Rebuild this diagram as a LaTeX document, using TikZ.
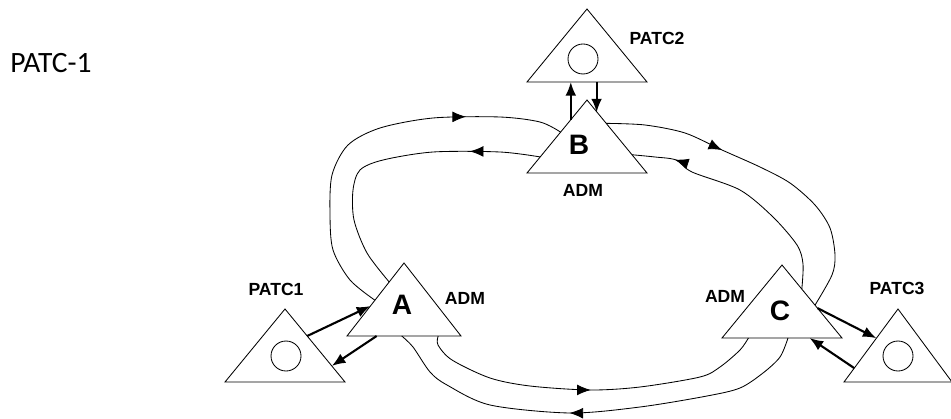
\documentclass[tikz,border=0pt]{standalone}
\usepackage{fontspec}
\setmainfont{Carlito}
\newfontfamily\admfont{Liberation Sans}
\usepackage{tikz}
\usetikzlibrary{calc,arrows.meta,decorations.markings}

\tikzset{
  ring/.style={line width=0.6pt},
  midarrow/.style={postaction={decorate}, decoration={markings, mark=at position #1 with {\arrow{Latex[length=3.4mm,width=2.7mm]}}}},
  link/.style={line width=1.5pt, -{Latex[length=3.4mm,width=2.7mm]}},
  tag/.style={font=\admfont\bfseries\fontsize{12.5}{14}\selectfont, inner sep=0pt},
  letter/.style={font=\admfont\bfseries\fontsize{20}{24}\selectfont, inner sep=0pt},
  port/.style={draw, circle, line width=0.6pt, minimum size=7.5mm, inner sep=0pt},
}

\begin{document}
\begin{tikzpicture}[x=0.25mm, y=-0.25mm]
  \useasboundingbox (0,0) rectangle (951,419);
  \node[font=\fontsize{21}{25}\selectfont, inner sep=0pt] (title) at (51,63) {PATC-1};

  % triangles: name / apex x / apex y / half base
  \foreach \n/\x/\y/\w in {P2/587/9/60, B/587/100/60, A/404/263/57, P1/285/309/60, C/782/265/60, P3/898/309/54}{
    \coordinate (\n-t) at (\x,\y);
    \coordinate (\n-l) at (\x-\w,\y+73);
    \coordinate (\n-r) at (\x+\w,\y+73);
    \draw[line width=0.6pt] (\n-t) -- (\n-l) -- (\n-r) -- cycle;
  }

  \node[port] (P2c) at (583,59) {};
  \node[port] (P1c) at (286,356) {};
  \node[port] (P3c) at (898,356) {};

  \node[letter] (Bn) at (579,145) {B};
  \node[letter] (An) at (402,305) {A};
  \node[letter] (Cn) at (780,311) {C};

  \node[tag] (P2n) at (657,38) {PATC2};
  \node[tag] (P1n) at (276,289) {PATC1};
  \node[tag] (P3n) at (897,288) {PATC3};
  \node[tag] (Badm) at (583,190) {ADM};
  \node[tag] (Aadm) at (465,298) {ADM};
  \node[tag] (Cadm) at (725,296) {ADM};

  % ring ends on the ADM triangles
  \coordinate (A-ot) at ($(A-t)!0.51!(A-l)$);
  \coordinate (A-it) at ($(A-t)!0.26!(A-l)$);
  \coordinate (A-ib) at ($(A-l)!0.80!(A-r)$);
  \coordinate (A-ob) at ($(A-l)!0.48!(A-r)$);
  \coordinate (B-ol) at ($(B-t)!0.44!(B-l)$);
  \coordinate (B-il) at ($(B-t)!0.78!(B-l)$);
  \coordinate (B-or) at ($(B-t)!0.32!(B-r)$);
  \coordinate (B-ir) at ($(B-t)!0.75!(B-r)$);
  \coordinate (C-or) at ($(C-t)!0.55!(C-r)$);
  \coordinate (C-ir) at ($(C-t)!0.33!(C-r)$);
  \coordinate (C-ib) at ($(C-l)!0.22!(C-r)$);
  \coordinate (C-ob) at ($(C-l)!0.55!(C-r)$);

  \draw[ring, midarrow=0.755] plot[smooth] coordinates {(A-ot) (350,280) (333,250) (330,215) (332,175) (348,145) (380,128) (433,118) (500,117) (540,122) (B-ol)};
  \draw[ring, midarrow=0.23] plot[smooth] coordinates {(B-il) (500,152) (433,152) (383,160) (360,170) (353,190) (354,220) (367,253) (A-it)};
  \draw[ring, midarrow=0.355] plot[smooth] coordinates {(B-or) (645,125) (685,133) (722,150) (760,167) (790,183) (815,205) (830,228) (835,255) (832,275) (C-or)};
  \draw[ring, midarrow=0.82] plot[smooth] coordinates {(C-ir) (803,264) (797,245) (773,217) (740,190) (692,172) (676,160) (655,157) (B-ir)};
  \draw[ring, midarrow=0.5] plot[smooth] coordinates {(A-ib) (438,345) (452,360) (490,378) (530,386) (590,390) (640,387) (700,377) (720,367) (740,350) (C-ib)};
  \draw[ring, midarrow=0.556] plot[smooth] coordinates {(C-ob) (780,357) (763,373) (740,388) (707,396) (640,407) (570,413) (490,405) (447,385) (430,372) (413,347) (A-ob)};

  % add/drop links
  \coordinate (P1-a) at ($(P1-t)!0.37!(P1-r)$);
  \coordinate (A-pa) at ($(A-t)!0.59!(A-l)$);
  \coordinate (A-pb) at ($(A-l)!0.26!(A-r)$);
  \coordinate (P1-b) at ($(P1-t)!0.78!(P1-r)$);
  \coordinate (B-u) at ($(B-t)!0.27!(B-l)$);
  \coordinate (B-d) at ($(B-t)!0.17!(B-r)$);
  \coordinate (P2-d) at ($(P2-l)!0.58!(P2-r)$);
  \coordinate (C-pa) at ($(C-t)!0.59!(C-r)$);
  \coordinate (P3-a) at ($(P3-t)!0.40!(P3-l)$);
  \coordinate (P3-b) at ($(P3-t)!0.81!(P3-l)$);
  \coordinate (C-pb) at ($(C-l)!0.73!(C-r)$);

  \draw[link] (P1-a) -- (A-pa);
  \draw[link] (A-pb) -- (P1-b);
  \draw[link] (B-u) -- (B-u |- P2-l);
  \draw[link] (P2-d) -- (P2-d |- B-d);
  \draw[link] (C-pa) -- (P3-a);
  \draw[link] (P3-b) -- (C-pb);
\end{tikzpicture}
\end{document}
